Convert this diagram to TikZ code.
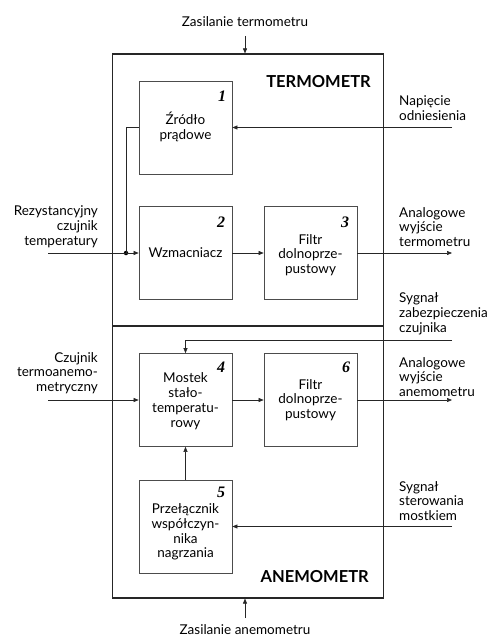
\documentclass[tikz,border=0pt]{standalone}
\usepackage{fontspec}
\setmainfont{Lato}
\newfontfamily\numfont{Liberation Serif}
\usetikzlibrary{arrows.meta}
\begin{document}
\begin{tikzpicture}[x=1pt,y=-1pt,
  every node/.style={font=\fontsize{13.5}{14.8}\selectfont, inner sep=0pt},
  outerbox/.style={draw=black!85, line width=1.1pt, minimum width=271pt, minimum height=272pt},
  block/.style={draw=black!70, line width=0.7pt, minimum width=93pt, minimum height=93pt},
  num/.style={font=\fontsize{16}{16}\selectfont\numfont\bfseries\itshape},
  title/.style={font=\fontsize{16.5}{16.5}\selectfont\bfseries},
  conn/.style={draw=black!85, line width=0.6pt},
  arr/.style={conn, -{Triangle[length=5pt,width=4pt]}},
  lbl/.style={align=left, anchor=west},
  lblr/.style={align=right, anchor=east},
  txt/.style={align=center}]
\useasboundingbox (0,0) rectangle (496,639);
% outer boxes
\node[outerbox] (term) at (248,190) {};
\node[outerbox] (anem) at (248,462) {};
\node[title, anchor=east] (tt) at (371,82) {TERMOMETR};
\node[title, anchor=east] (ta) at (369,577) {ANEMOMETR};
% blocks
\node[block] (b1) at (185.5,127.5) {};
\node[block] (b2) at (185.5,253) {};
\node[block] (b3) at (310.5,253) {};
\node[block] (b4) at (185.5,400) {};
\node[block] (b6) at (310.5,400) {};
\node[block] (b5) at (185.5,526.5) {};
% block numbers
\node[num] (n1) at (222,96) {1};
\node[num] (n2) at (221,222) {2};
\node[num] (n3) at (345,222) {3};
\node[num] (n4) at (221,367) {4};
\node[num] (n6) at (346,367) {6};
\node[num] (n5) at (221,492) {5};
% block texts
\node[txt] (t1) at (185.5,127) {Źródło\\prądowe};
\node[txt] (t2) at (185.5,253) {Wzmacniacz};
\node[txt] (t3) at (310.5,255) {Filtr\\dolnoprze-\\pustowy};
\node[txt] (t4) at (185.5,401) {Mostek\\stało-\\temperatu-\\rowy};
\node[txt] (t6) at (310.5,400) {Filtr\\dolnoprze-\\pustowy};
\node[txt] (t5) at (185.5,532) {Przełącznik\\współczyn-\\nika\\nagrzania};
% outside labels
\node (lzt) at (245,22) {Zasilanie termometru};
\node (lza) at (245,630) {Zasilanie anemometru};
\node[lbl] (lnap) at (399,108.5) {Napięcie\\odniesienia};
\node[lbl] (lawt) at (399,227) {Analogowe\\wyjście\\termometru};
\node[lbl] (lsz) at (399,314) {Sygnał\\zabezpieczenia\\czujnika};
\node[lbl] (lawa) at (399,377) {Analogowe\\wyjście\\anemometru};
\node[lbl] (lss) at (399,501) {Sygnał\\sterowania\\mostkiem};
\node[lblr] (lrc) at (98,227) {Rezystancyjny\\czujnik\\temperatury};
\node[lblr] (lct) at (98,373) {Czujnik\\termoanemo-\\metryczny};
% connector endpoints
\coordinate (ztop) at (245,36);
\coordinate (zbot) at (245,618);
\coordinate (nap) at (452,127.5);
\coordinate (rin) at (48,253);
\coordinate (tout) at (452,253);
\coordinate (szin) at (452,340);
\coordinate (cin) at (48,400);
\coordinate (aout) at (452,400);
\coordinate (ssin) at (452,526.5);
\node[circle, fill=black, minimum size=4.5pt] (dot) at (126,253) {};
% connectors
\draw[arr] (ztop) -- (ztop |- term.north);
\draw[arr] (zbot) -- (zbot |- anem.south);
\draw[arr] (nap) -- (b1.east);
\draw[conn] (b1.west) -| (dot.center);
\draw[conn] (rin) -- (dot.center);
\draw[arr] (dot.center) -- (b2.west);
\draw[arr] (b2.east) -- (b3.west);
\draw[arr] (b3.east) -- (tout);
\draw[arr] (szin) -| (b4.north);
\draw[arr] (cin) -- (b4.west);
\draw[arr] (b4.east) -- (b6.west);
\draw[arr] (b6.east) -- (aout);
\draw[arr] (b5.north) -- (b4.south);
\draw[arr] (ssin) -- (b5.east);
\end{tikzpicture}
\end{document}
